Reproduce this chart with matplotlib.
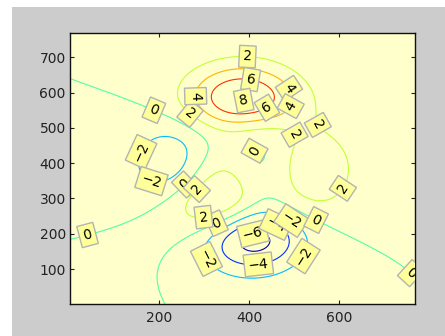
import numpy as np
import matplotlib
matplotlib.use("Agg")
import matplotlib.pyplot as plt
from matplotlib.patches import Rectangle
from matplotlib.colors import Normalize

# ---- data: MATLAB peaks surface sampled on a 769 x 769 grid ----
grid_n = 769
levels = [-6, -4, -2, 0, 2, 4, 6, 8]
x_ticks = [200, 400, 600]
y_ticks = [100, 200, 300, 400, 500, 600, 700]

# label anchor points (data coords) for each contour level
label_pos = {
    8: [(387, 584)],
    6: [(403, 636), (439, 558)],
    4: [(488, 612), (276, 590), (492, 562)],
    2: [(396, 702), (267, 538), (552, 508), (500, 480), (284, 326),
        (608, 329), (298, 249)],
    0: [(188, 551), (415, 433), (253, 345), (326, 232), (549, 239),
        (40, 197), (758, 86)],
    -2: [(158, 433), (183, 352), (495, 239), (304, 128), (517, 140)],
    -4: [(458, 220), (420, 116)],
    -6: [(409, 197)],
}

u = np.linspace(-3, 3, grid_n)
X, Y = np.meshgrid(u, u)
Z = (3 * (1 - X) ** 2 * np.exp(-X ** 2 - (Y + 1) ** 2)
     - 10 * (X / 5 - X ** 3 - Y ** 5) * np.exp(-X ** 2 - Y ** 2)
     - 1 / 3 * np.exp(-(X + 1) ** 2 - Y ** 2))
idx = np.arange(1, grid_n + 1)

fig = plt.figure(figsize=(4.45, 3.36), dpi=100, facecolor="white")
fig.patches.append(Rectangle((12 / 445, 0), 1, 1 - 7 / 336,
                             transform=fig.transFigure, facecolor="#CCCCCC",
                             edgecolor="none", zorder=-10))
ax = fig.add_axes([70 / 445, 32 / 336, 345 / 445, 271 / 336])
ax.set_facecolor("#FFFFCC")
ax.set_xlim(1, grid_n)
ax.set_ylim(1, grid_n)

cmap = plt.get_cmap("jet")
norm = Normalize(vmin=Z.min(), vmax=Z.max())


def fmt_level(v):
    return f"{v:.0f}".replace("-", "\u2212")


texts = []
for lev in levels:
    cs = ax.contour(idx, idx, Z, levels=[lev], colors=[cmap(norm(lev))],
                    linewidths=0.8, linestyles="solid",
                    negative_linestyles="solid")
    pts = label_pos.get(lev, [])
    if pts:
        texts += list(ax.clabel(cs, manual=pts, inline=False, fmt=fmt_level,
                                fontsize=10, colors="black"))

for t in texts:
    t.set_bbox(dict(boxstyle="square,pad=0.28", facecolor="#FFFF99",
                    edgecolor="#B3B3B3", linewidth=1.0))
    t.set_clip_on(True)
    t.set_clip_path(ax.patch)
    t.set_zorder(5)

ax.set_xlim(1, grid_n)
ax.set_ylim(1, grid_n)
ax.set_xticks(x_ticks)
ax.set_yticks(y_ticks)
ax.tick_params(direction="in", length=3, width=0.8, top=True, right=True,
               labelsize=10, labelcolor="#222222", color="#222222")
ax.tick_params(axis="x", pad=5)
ax.tick_params(axis="y", pad=3)
for s in ax.spines.values():
    s.set_linewidth(1.0)
    s.set_color("#111111")

fig.savefig("out.png", dpi=100, facecolor=fig.get_facecolor())
